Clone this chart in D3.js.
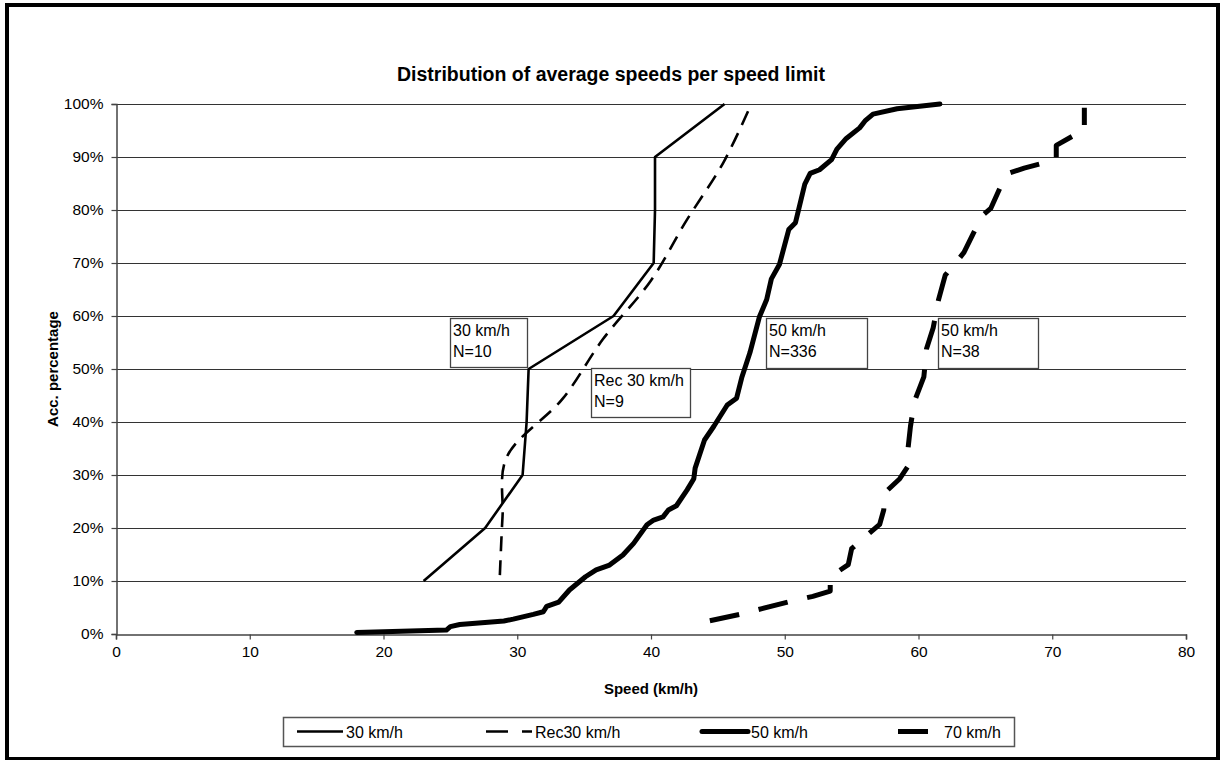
<!DOCTYPE html>
<html>
<head>
<meta charset="utf-8">
<script src="https://cdn.jsdelivr.net/npm/d3@7"></script>
<style>
  html, body { margin: 0; padding: 0; background: #fff; }
  svg { display: block; font-family: "Liberation Sans", Arial, sans-serif; }
</style>
</head>
<body>
<svg id="chart" width="1223" height="760"></svg>
<script>
// ---------------- DATA ----------------
const chartTitle = "Distribution of average speeds per speed limit";
const xTitle = "Speed (km/h)";
const yTitle = "Acc. percentage";
const speedTicks = [0, 10, 20, 30, 40, 50, 60, 70, 80];
const pctTicks = [0, 10, 20, 30, 40, 50, 60, 70, 80, 90, 100];
const seriesNames = ["30 km/h", "Rec30 km/h", "50 km/h", "70 km/h"];

// 30 km/h (N=10)
const s30Speed = [23.0, 27.6, 30.4, 30.7, 30.85, 37.2, 40.2, 40.3, 40.3, 45.5];
const s30Pct   = [10, 20, 30, 40, 50, 60, 70, 80, 90, 100];

// Rec 30 km/h (N=9)
const rec30Speed = [28.7, 28.9, 29.2, 33.4, 36.4, 40.0, 42.6, 45.4, 47.5];
const rec30Pct   = [11.1, 22.2, 33.3, 44.4, 55.6, 66.7, 77.8, 88.9, 100];

// 50 km/h (N=336)
const s50Speed = [18.0, 24.7, 25.0, 25.7, 29.0, 29.7, 31.2, 31.95, 32.2, 33.1, 33.9, 35.1, 35.9, 36.9, 37.9, 38.7,
                  39.7, 40.2, 40.9, 41.3, 41.9, 42.7, 43.2, 43.3, 44.0, 44.7, 45.7, 46.4, 46.8, 47.4, 48.1, 48.65,
                  49.0, 49.6, 50.3, 50.8, 51.5, 51.9, 52.6, 53.5, 53.9, 54.6, 55.6, 56.0, 56.6, 58.4, 61.6];
const s50Pct   = [0.3, 0.75, 1.4, 1.8, 2.45, 2.8, 3.7, 4.2, 5.2, 6.0, 8.3, 10.8, 12.1, 13.0, 14.9, 17.1,
                  20.6, 21.5, 22.1, 23.4, 24.2, 27.2, 29.3, 31.3, 36.6, 39.2, 43.2, 44.5, 48.5, 53.1, 59.8, 63.1,
                  67.0, 69.7, 76.3, 77.6, 84.9, 86.9, 87.6, 89.5, 91.5, 93.5, 95.5, 96.8, 98.1, 99.1, 100];

// 70 km/h (N=38)
const s70Speed = [44.4, 46.8, 48.3, 50.5, 52.1, 53.4, 53.4, 54.75, 55.0, 55.9, 57.1, 57.4, 57.5, 58.6, 59.2, 59.2,
                  59.4, 59.7, 60.4, 60.6, 61.1, 61.5, 62.0, 62.9, 63.4, 64.1, 64.8, 65.4, 66.1, 66.7, 67.9, 70.3,
                  70.3, 71.7, 72.4, 72.4];
const s70Pct   = [2.5, 3.8, 4.8, 6.2, 7.1, 8.1, 10.8, 13.1, 16.1, 18.1, 20.7, 23.4, 26.7, 29.3, 31.6, 34.6,
                  39.2, 43.9, 48.5, 53.8, 57.8, 63.1, 67.7, 70.4, 72.0, 75.6, 79.0, 80.3, 84.2, 86.9, 87.9, 89.5,
                  92.2, 94.2, 94.8, 99.3];

const annotationTexts = [["30 km/h", "N=10"], ["Rec 30 km/h", "N=9"], ["50 km/h", "N=336"], ["50 km/h", "N=38"]];

// ---------------- LAYOUT ----------------
const W = 1223, H = 760;
const plot = { left: 116, right: 1186, top: 104, bottom: 634 };
const svg = d3.select("#chart");

const x = d3.scaleLinear().domain([0, 80]).range([plot.left, plot.right]);
const y = d3.scaleLinear().domain([0, 100]).range([plot.bottom, plot.top]);

// outer frame
svg.append("rect").attr("x", 7).attr("y", 5).attr("width", 1211).attr("height", 754)
  .attr("fill", "#fff").attr("stroke", "#000").attr("stroke-width", 4);

// title
svg.append("text").attr("x", 611).attr("y", 81).attr("text-anchor", "middle")
  .attr("font-size", 19.5).attr("font-weight", "bold").text(chartTitle);

// gridlines
svg.append("g").selectAll("line").data(pctTicks.filter(d => d > 0)).join("line")
  .attr("x1", plot.left).attr("x2", plot.right)
  .attr("y1", d => y(d) + 0.5).attr("y2", d => y(d) + 0.5)
  .attr("stroke", "#333").attr("stroke-width", 1);

// axes
const xAxis = svg.append("g").attr("transform", `translate(0,${plot.bottom + 0.5})`)
  .call(d3.axisBottom(x).tickValues(speedTicks).tickSize(5).tickPadding(6).tickFormat(d3.format("d")));
const yAxis = svg.append("g").attr("transform", `translate(${plot.left + 0.5},0)`)
  .call(d3.axisLeft(y).tickValues(pctTicks).tickSize(5).tickPadding(8).tickFormat(d => d + "%"));
[xAxis, yAxis].forEach(g => {
  g.select(".domain").attr("stroke", "#444").attr("stroke-width", 1.5);
  g.selectAll(".tick line").attr("stroke", "#444").attr("stroke-width", 1.2);
  g.selectAll(".tick text").attr("font-size", 15.5).attr("fill", "#000")
    .attr("font-family", "'Liberation Sans', Arial, sans-serif");
});

// axis titles
svg.append("text").attr("x", (plot.left + plot.right) / 2).attr("y", 694).attr("text-anchor", "middle")
  .attr("font-size", 15).attr("font-weight", "bold").text(xTitle);
svg.append("text").attr("transform", `translate(58,${(plot.top + plot.bottom) / 2}) rotate(-90)`)
  .attr("text-anchor", "middle").attr("font-size", 15).attr("font-weight", "bold").text(yTitle);

// series
const zip = (a, b) => a.map((v, i) => [v, b[i]]);
const styles = [
  { w: 2.6, dash: null, curve: d3.curveLinear, cap: "butt" },
  { w: 2.6, dash: "15,9", curve: d3.curveCatmullRom.alpha(0.5), cap: "butt" },
  { w: 5, dash: null, curve: d3.curveLinear, cap: "round" },
  { w: 5, dash: "30,20", curve: d3.curveLinear, cap: "butt" }
];
const seriesData = [zip(s30Speed, s30Pct), zip(rec30Speed, rec30Pct), zip(s50Speed, s50Pct), zip(s70Speed, s70Pct)];

const gSeries = svg.append("g");
seriesData.forEach((data, i) => {
  const st = styles[i];
  const line = d3.line().x(d => x(d[0])).y(d => y(d[1])).curve(st.curve);
  gSeries.append("path").attr("d", line(data)).attr("fill", "none").attr("stroke", "#000")
    .attr("stroke-width", st.w).attr("stroke-linejoin", "round").attr("stroke-linecap", st.cap)
    .attr("stroke-dasharray", st.dash);
});

// annotation boxes (layout positions in pixels)
const annotationBoxes = [
  { x: 450, y: 318, w: 77, h: 49 },
  { x: 591, y: 368, w: 99, h: 49 },
  { x: 766, y: 318, w: 101, h: 50 },
  { x: 938, y: 318, w: 100, h: 50 }
];
annotationTexts.forEach((lines, i) => {
  const b = annotationBoxes[i];
  const g = svg.append("g");
  g.append("rect").attr("x", b.x + 0.5).attr("y", b.y + 0.5).attr("width", b.w).attr("height", b.h)
    .attr("fill", "#fff").attr("stroke", "#444").attr("stroke-width", 1.3);
  lines.forEach((t, j) => {
    g.append("text").attr("x", b.x + 3).attr("y", b.y + 18 + j * 21)
      .attr("font-size", 16).text(t);
  });
});

// legend
const legendBox = { x: 283, y: 717, w: 731, h: 29 };
svg.append("rect").attr("x", legendBox.x + 0.5).attr("y", legendBox.y + 0.5)
  .attr("width", legendBox.w).attr("height", legendBox.h)
  .attr("fill", "#fff").attr("stroke", "#555").attr("stroke-width", 1.5);
const legendStarts = [297, 486, 702, 898];
const legendDash = [null, "22,14", null, "30,20"];
seriesNames.forEach((name, i) => {
  const sx = legendStarts[i], cy = legendBox.y + legendBox.h / 2;
  svg.append("line").attr("x1", sx).attr("x2", sx + 46).attr("y1", cy).attr("y2", cy)
    .attr("stroke", "#000").attr("stroke-width", styles[i].w)
    .attr("stroke-linecap", styles[i].cap).attr("stroke-dasharray", legendDash[i]);
  svg.append("text").attr("x", sx + 49 + (i === 3 ? -3 : 0)).attr("y", cy + 6)
    .attr("font-size", 16).text(name);
});
</script>
</body>
</html>
